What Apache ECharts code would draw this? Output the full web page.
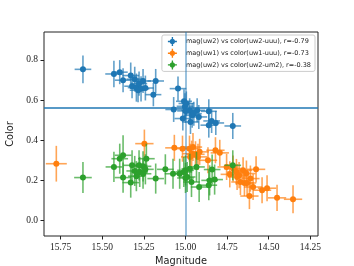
<!DOCTYPE html>
<html><head><meta charset="utf-8">
<script src="https://cdn.jsdelivr.net/npm/echarts@6/dist/echarts.min.js"></script>
<style>html,body{margin:0;padding:0;background:#fff}#c{width:354px;height:266px}</style>
</head><body><div id="c"></div>
<script>
const seriesNames = ['mag(uw2) vs color(uw2-uuu), r=-0.79','mag(uw1) vs color(uw1-uuu), r=-0.73','mag(uw2) vs color(uw2-um2), r=-0.38'];
const colors = ['#1f77b4','#ff7f0e','#2ca02c'];
const xTicks = [15.75,15.50,15.25,15.00,14.75,14.50,14.25];
const yTicks = [0.0,0.2,0.4,0.6,0.8];
const vLineX = 15.0;
const hLineY = 0.558;

const blueX = [15.616,15.43,15.395,15.375,15.329,15.321,15.305,15.295,15.279,15.267,15.255,15.241,15.285,15.179,15.193,15.045,15.071,15.009,15.003,15.0,14.995,14.975,14.96,14.93,14.97,14.92,14.86,14.843,14.86,14.818,14.716,15.016,14.95];
const blueY = [0.753,0.73,0.739,0.699,0.722,0.669,0.704,0.662,0.682,0.656,0.695,0.66,0.649,0.695,0.627,0.657,0.553,0.594,0.569,0.546,0.583,0.549,0.524,0.549,0.491,0.516,0.544,0.496,0.475,0.486,0.471,0.508,0.532];
const blueXErr = [0.05,0.052,0.048,0.05,0.05,0.047,0.05,0.052,0.049,0.05,0.048,0.05,0.05,0.05,0.048,0.05,0.05,0.048,0.05,0.05,0.047,0.05,0.05,0.048,0.05,0.05,0.048,0.05,0.05,0.05,0.05,0.05,0.048];
const blueYErr = [0.069,0.066,0.06,0.06,0.065,0.06,0.062,0.07,0.06,0.063,0.06,0.062,0.06,0.06,0.058,0.06,0.062,0.06,0.065,0.06,0.06,0.06,0.062,0.06,0.06,0.06,0.06,0.06,0.062,0.06,0.065,0.06,0.06];

const orangeX = [15.776,15.247,15.067,15.018,14.976,14.955,14.963,14.94,14.925,14.972,14.915,14.865,14.82,14.794,14.753,14.734,14.714,14.694,14.678,14.654,14.634,14.67,14.646,14.576,14.61,14.63,14.594,14.616,14.54,14.51,14.45,14.354,14.69];
const orangeY = [0.283,0.383,0.362,0.358,0.358,0.366,0.333,0.33,0.317,0.317,0.342,0.3,0.35,0.337,0.267,0.23,0.259,0.242,0.226,0.25,0.234,0.192,0.187,0.255,0.209,0.187,0.167,0.122,0.151,0.161,0.113,0.106,0.217];
const orangeXErr = [0.063,0.055,0.055,0.055,0.055,0.055,0.055,0.055,0.055,0.055,0.055,0.055,0.055,0.055,0.055,0.055,0.055,0.055,0.055,0.055,0.055,0.055,0.055,0.055,0.055,0.055,0.055,0.055,0.055,0.055,0.055,0.055,0.055];
const orangeYErr = [0.089,0.07,0.065,0.065,0.065,0.07,0.065,0.065,0.065,0.065,0.065,0.065,0.065,0.065,0.065,0.065,0.065,0.065,0.065,0.065,0.065,0.065,0.065,0.065,0.065,0.065,0.065,0.065,0.065,0.065,0.065,0.07,0.065];

const greenX = [15.616,15.43,15.395,15.375,15.375,15.329,15.321,15.305,15.295,15.279,15.275,15.255,15.241,15.235,15.255,15.179,15.121,15.075,15.035,15.0,15.0,14.974,14.964,14.934,14.918,14.86,14.855,14.84,14.825,14.716,14.99,15.01];
const greenY = [0.214,0.267,0.308,0.325,0.214,0.189,0.275,0.247,0.221,0.275,0.242,0.27,0.255,0.308,0.233,0.209,0.255,0.233,0.233,0.212,0.25,0.258,0.192,0.267,0.167,0.176,0.2,0.254,0.204,0.275,0.217,0.242];
const greenXErr = [0.053,0.05,0.05,0.05,0.05,0.05,0.05,0.05,0.05,0.05,0.05,0.05,0.05,0.05,0.05,0.05,0.05,0.05,0.05,0.05,0.05,0.05,0.05,0.05,0.05,0.05,0.05,0.05,0.05,0.05,0.05,0.05];
const greenYErr = [0.077,0.075,0.075,0.1,0.075,0.075,0.075,0.075,0.075,0.075,0.075,0.075,0.075,0.075,0.075,0.075,0.075,0.075,0.075,0.075,0.075,0.075,0.075,0.075,0.075,0.075,0.075,0.075,0.075,0.075,0.075,0.075];

const groups = [
  [blueX, blueY, blueXErr, blueYErr],
  [orangeX, orangeY, orangeXErr, orangeYErr],
  [greenX, greenY, greenXErr, greenYErr]
];

function errSeries(idx){
  const g = groups[idx];
  const data = g[0].map((x,i)=>[x, g[1][i], g[2][i], g[3][i]]);
  return {
    type:'custom', name: seriesNames[idx]+'_err', data: data, encode:{x:0,y:1}, z: 2+idx*2, silent:true,
    renderItem: function(params, api){
      const x=api.value(0), y=api.value(1), xe=api.value(2), ye=api.value(3);
      const a=api.coord([x-xe,y]), b=api.coord([x+xe,y]), c=api.coord([x,y-ye]), d=api.coord([x,y+ye]);
      const st={stroke:colors[idx], lineWidth:1.6, opacity:0.7};
      return {type:'group', children:[
        {type:'line', shape:{x1:a[0],y1:a[1],x2:b[0],y2:b[1]}, style:st},
        {type:'line', shape:{x1:c[0],y1:c[1],x2:d[0],y2:d[1]}, style:st}
      ]};
    }
  };
}
function ptSeries(idx){
  const g = groups[idx];
  return {type:'scatter', name: seriesNames[idx], data: g[0].map((x,i)=>[x,g[1][i]]), symbolSize:6, z:3+idx*2,
    itemStyle:{color:colors[idx], opacity:1}, silent:true};
}
const iconPath = 'path://M0,4.25L10,4.25L10,5.75L0,5.75Z M4.25,0L5.75,0L5.75,10L4.25,10Z M5,2C6.7,2 8,3.3 8,5C8,6.7 6.7,8 5,8C3.3,8 2,6.7 2,5C2,3.3 3.3,2 5,2Z';

const serif = 'Liberation Serif';
const option = {
  animation:false,
  grid:{left:44,right:36,top:32,bottom:30, show:true, borderColor:'#222', borderWidth:1, backgroundColor:'transparent', containLabel:false, outerBoundsMode:'none'},
  legend:{
    data: seriesNames.map(n=>({name:n, icon:iconPath})),
    orient:'vertical', right:39, top:35, itemWidth:9, itemHeight:9, itemGap:2.7,
    backgroundColor:'rgba(255,255,255,0.8)', borderColor:'#ccc', borderWidth:1, borderRadius:2,
    padding:[2,4,2,6],
    textStyle:{fontFamily:'DejaVu Sans', fontSize:6.5, color:'#222', padding:[0,0,0,4]}
  },
  xAxis:{type:'value', inverse:true, min:14.204, max:15.85,
    name:'Magnitude', nameLocation:'middle', nameGap:19, nameTextStyle:{fontFamily:'DejaVu Sans', fontSize:9.8, color:'#222'},
    splitLine:{show:false}, axisLine:{show:false, onZero:false},
    axisTick:{show:true, length:3.5, lineStyle:{color:'#222'}, customValues:xTicks},
    axisLabel:{fontFamily:serif, fontSize:9.5, color:'#222', margin:6, customValues:xTicks, formatter:v=>v.toFixed(2)}
  },
  yAxis:{type:'value', min:-0.077, max:0.939,
    name:'Color', nameLocation:'middle', nameGap:23, nameTextStyle:{fontFamily:'DejaVu Sans', fontSize:9.8, color:'#222'},
    splitLine:{show:false}, axisLine:{show:false, onZero:false},
    axisTick:{show:true, length:3.5, lineStyle:{color:'#222'}, customValues:yTicks},
    axisLabel:{fontFamily:serif, fontSize:9.5, color:'#222', margin:6, customValues:yTicks, formatter:v=>v.toFixed(1)}
  },
  series:[
    errSeries(0), ptSeries(0), errSeries(1), ptSeries(1), errSeries(2), ptSeries(2),
    {type:'line', name:'refs', data:[], silent:true, z:9,
      markLine:{symbol:'none', silent:true, label:{show:false}, animation:false,
        data:[
          {xAxis:vLineX, lineStyle:{color:'#1f77b4', width:1.5, type:'solid', opacity:0.6}},
          {yAxis:hLineY, lineStyle:{color:'#1f77b4', width:1.5, type:'solid', opacity:1}}
        ]}}
  ]
};
echarts.init(document.getElementById('c'), null, {renderer:'canvas'}).setOption(option);
</script></body></html>
